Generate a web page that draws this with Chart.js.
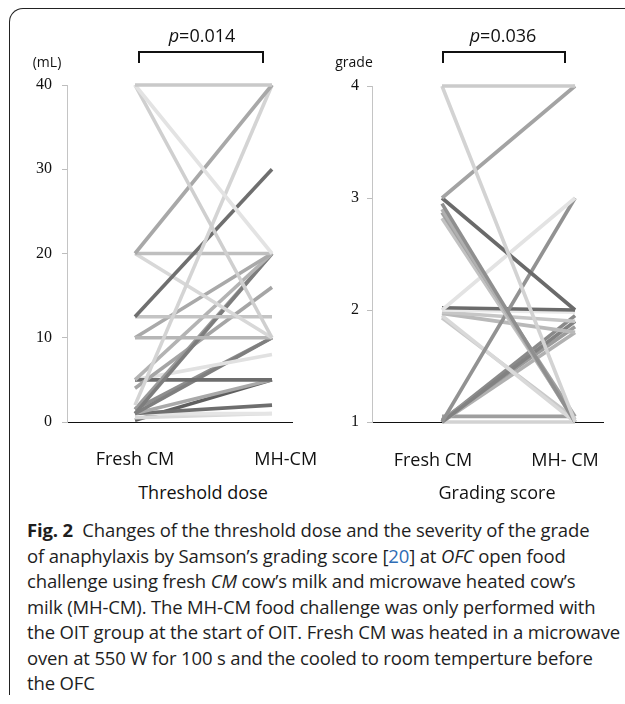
<!DOCTYPE html>
<html>
<head>
<meta charset="utf-8">
<script src="https://cdn.jsdelivr.net/npm/chart.js@4/dist/chart.umd.min.js"></script>
<style>
  html, body { margin:0; padding:0; background:#fff; }
  body { width:625px; height:704px; position:relative; overflow:hidden; font-family:'Open Sans', sans-serif; color:#111; }
  .abs { position:absolute; }
  canvas { position:absolute; }
  .frame { left:9px; top:8px; width:640px; height:687px; border-top:1.5px solid #222; border-left:1.5px solid #222; border-top-left-radius:14px; box-sizing:border-box; }
  .pval { font-size:18px; white-space:nowrap; transform:translateX(-50%); }
  .brk { border:2px solid #111; border-bottom:none; height:12px; box-sizing:border-box; }
  .unit { font-size:14px; white-space:nowrap; transform:translateX(-50%); }
  .sub { font-size:18px; white-space:nowrap; transform:translateX(-50%); }
  .cap { left:27px; top:517px; font-size:18.5px; line-height:25.5px; white-space:nowrap; color:#1e1e1e; letter-spacing:-0.15px; }
  .cap b { font-weight:700; }
  .cap .ref { color:#2f6db5; }
</style>
</head>
<body>
<div class="abs frame"></div>

<canvas id="c1" width="345" height="480" style="left:0;top:0"></canvas>
<canvas id="c2" width="325" height="480" style="left:300px;top:0"></canvas>

<div class="abs pval" style="left:202px;top:23px"><i>p</i>=0.014</div>
<div class="abs brk" style="left:138px;top:51px;width:126px"></div>
<div class="abs pval" style="left:503px;top:23px"><i>p</i>=0.036</div>
<div class="abs brk" style="left:442px;top:51px;width:124px"></div>

<div class="abs unit" style="left:47px;top:52px">(mL)</div>
<div class="abs unit" style="left:354px;top:52px">grade</div>

<div class="abs sub" style="left:203px;top:480px">Threshold dose</div>
<div class="abs sub" style="left:497px;top:480px">Grading score</div>

<div class="abs cap"><b>Fig. 2</b>&nbsp; Changes of the threshold dose and the severity of the grade<br>of anaphylaxis by Samson’s grading score [<span class="ref">20</span>] at <i>OFC</i> open food<br>challenge using fresh <i>CM</i> cow’s milk and microwave heated cow’s<br>milk (MH-CM). The MH-CM food challenge was only performed with<br>the OIT group at the start of OIT. Fresh CM was heated in a microwave<br>oven at 550 W for 100 s and the cooled to room temperture before<br>the OFC</div>

<script>
// ---- data ----
const groupsDose  = ['Fresh CM', 'MH-CM'];
const groupsGrade = ['Fresh CM', 'MH- CM'];

// Threshold dose (mL), one entry per patient
const doseFresh = [40, 40, 40, 20, 2, 12.5, 20, 20, 12.5, 10, 10, 5, 1, 1.5, 4, 5, 5, 1, 1.5, 1, 1, 1, 0.5, 0.2];
const doseMH    = [40, 20, 10, 40, 40, 30, 20, 10, 12.5, 10, 20, 20, 20, 20, 16, 5, 8, 10, 10, 5, 2, 1, 1, 5];
const doseTicks = [0, 10, 20, 30, 40];

// Grading score, one entry per patient (slightly offset in the original for visibility)
const gradeFresh = [4, 4, 3, 3, 2.95, 2.9, 2.87, 2.82, 2, 1, 2.02, 2, 1.98, 1.97, 1.95, 1.93, 1, 1.02, 1, 1.05, 1, 1.01];
const gradeMH    = [4, 1, 4, 2, 1, 1, 1.05, 1.02, 3, 3, 2, 1.98, 1.9, 1.8, 1, 1.03, 1.9, 1.85, 1.8, 1.05, 1, 1.95];
const gradeTicks = [1, 2, 3, 4];

// ---- styles ----
const doseGrays = ['#c9c9c9','#e3e3e3','#cfcfcf','#a8a8a8','#d4d4d4','#6f6f6f','#bfbfbf','#d8d8d8','#c4c4c4','#b6b6b6','#a9a9a9','#b3b3b3','#7d7d7d','#9a9a9a','#a5a5a5','#6d6d6d','#e1e1e1','#7f7f7f','#8e8e8e','#a9a9a9','#6e6e6e','#e5e5e5','#d9d9d9','#5f5f5f'];
const gradeGrays = ['#cbcbcb','#d3d3d3','#a3a3a3','#6a6a6a','#8f8f8f','#b0b0b0','#a0a0a0','#c2c2c2','#e3e3e3','#929292','#6b6b6b','#e9e9e9','#c6c6c6','#b9b9b9','#d9d9d9','#c9c9c9','#828282','#9b9b9b','#b1b1b1','#9e9e9e','#d2d2d2','#8a8a8a'];

function makeChart(id, fresh, mh, grays, groups, labelPos, yTicks, cfg) {
  const datasets = fresh.map((v, i) => ({
    data: [{x: 0, y: v}, {x: 1, y: mh[i]}],
    borderColor: grays[i],
    borderWidth: 3.6,
    pointRadius: 0,
    borderCapStyle: 'butt',
    clip: false
  }));
  return new Chart(document.getElementById(id), {
    type: 'line',
    data: { datasets },
    options: {
      responsive: false,
      animation: false,
      devicePixelRatio: 1,
      layout: { padding: cfg.padding },
      plugins: { legend: { display: false }, tooltip: { enabled: false } },
      scales: {
        x: {
          type: 'linear',
          min: cfg.xMin, max: cfg.xMax,
          afterBuildTicks: s => { s.ticks = labelPos.map(v => ({ value: v })); },
          afterFit: s => { s.height = 45; },
          ticks: {
            padding: cfg.xPad,
            color: '#111',
            font: { family: 'Open Sans', size: 18 },
            maxRotation: 0,
            autoSkip: false,
            callback: (val, idx) => groups[idx]
          },
          grid: { display: false },
          border: { display: true, color: '#111', width: 1 }
        },
        y: {
          min: yTicks[0], max: yTicks[yTicks.length - 1],
          afterBuildTicks: s => { s.ticks = yTicks.map(v => ({ value: v })); },
          afterFit: s => { s.width = cfg.yWidth; },
          ticks: {
            padding: cfg.yPad,
            color: '#111',
            font: { family: 'Liberation Serif', size: 16 }
          },
          grid: { drawOnChartArea: false, drawTicks: true, tickLength: 5, color: '#bdbdbd' },
          border: { display: true, color: '#c4c4c4', width: 1 }
        }
      }
    }
  });
}

// left panel: chart area x 67..292, y 85..422
makeChart('c1', doseFresh, doseMH, doseGrays, groupsDose, [0, 1.1], doseTicks, {
  padding: { left: 0, top: 85, right: 53, bottom: 13 },
  xMin: -0.4964, xMax: 1.146, xPad: 19, yWidth: 67, yPad: 10
});

// right panel: chart area x 372..603, y 86..422
makeChart('c2', gradeFresh, gradeMH, gradeGrays, groupsGrade, [-0.068, 0.925], gradeTicks, {
  padding: { left: 0, top: 86, right: 22, bottom: 13 },
  xMin: -0.526, xMax: 1.21, xPad: 20, yWidth: 72, yPad: 8
});
</script>
</body>
</html>
